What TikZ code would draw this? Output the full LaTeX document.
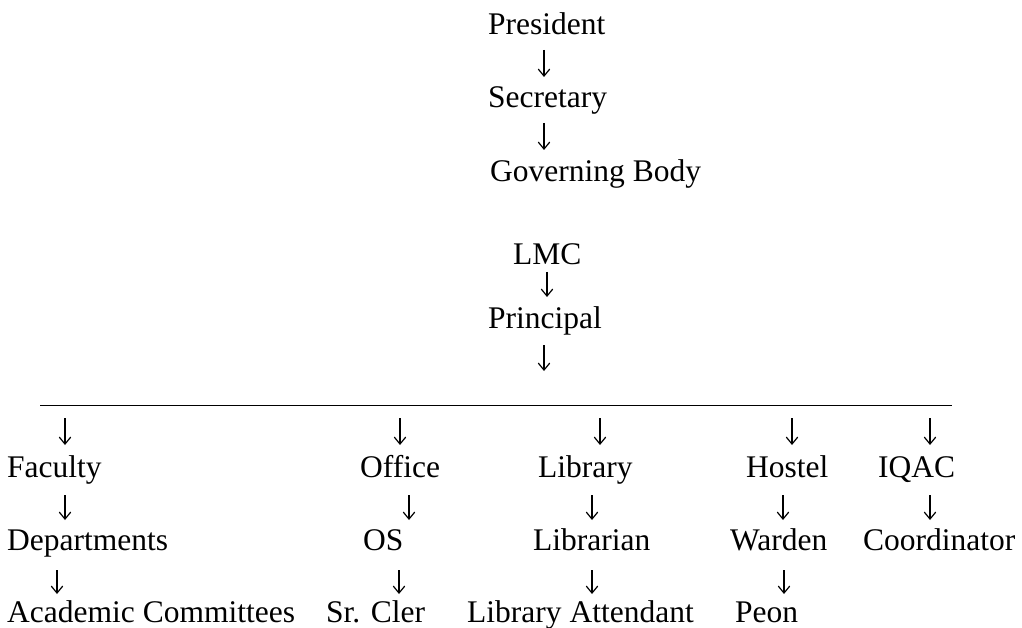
\documentclass[tikz,border=0pt]{standalone}
\usepackage{fontspec}
\setmainfont{Liberation Serif}
\usetikzlibrary{arrows.meta}
\begin{document}
\begin{tikzpicture}[x=1pt,y=-1pt,
  lbl/.style={anchor=base west,inner sep=0pt,font=\fontsize{31.5}{36}\selectfont},
  arr/.style={line width=1.2pt,-{Straight Barb[length=7pt,width=11.5pt,line width=1.2pt]}},
  rule/.style={line width=1.3pt}]
\useasboundingbox (0,0) rectangle (1022,628);
% top column
\node[lbl] (pres) at (488,35) {President};
\node[lbl] (sec) at (488,108) {Secretary};
\node[lbl] (gb) at (490,182) {Governing Body};
\node[lbl] (lmc) at (513,265) {LMC};
\node[lbl] (prin) at (488,328) {Principal};
% branches
\node[lbl] (fac) at (7,477) {Faculty};
\node[lbl] (off) at (360,477) {Office};
\node[lbl] (lib) at (538,477) {Library};
\node[lbl] (hos) at (746,477) {Hostel};
\node[lbl] (iqac) at (878,477) {IQAC};
\node[lbl] (dep) at (7,550) {Departments};
\node[lbl] (os) at (363,550) {OS};
\node[lbl] (libn) at (533,550) {Librarian};
\node[lbl] (war) at (730,550) {Warden};
\node[lbl] (coord) at (863,550) {Coordinator};
\node[lbl] (acad) at (7,622) {Academic Committees};
\node[lbl] (sr) at (326,622) {Sr. Cler};
\node[lbl] (libatt) at (467,622) {Library Attendant};
\node[lbl] (peon) at (735,622) {Peon};
% arrow end points
\coordinate (a1s) at (544,50);  \coordinate (a1e) at (544,77);
\coordinate (a2s) at (544,123); \coordinate (a2e) at (544,150);
\coordinate (a3s) at (547,272); \coordinate (a3e) at (547,297);
\coordinate (a4s) at (544,345); \coordinate (a4e) at (544,371);
\coordinate (hl) at (40,405.5); \coordinate (hr) at (952,405.5);
\draw[arr] (a1s) -- (a1e);
\draw[arr] (a2s) -- (a2e);
\draw[arr] (a3s) -- (a3e);
\draw[arr] (a4s) -- (a4e);
\draw[rule] (hl) -- (hr);
\foreach \x [count=\i] in {65,400,600,792,930}{
  \coordinate (r1s\i) at (\x,418); \coordinate (r1e\i) at (\x,445);
  \draw[arr] (r1s\i) -- (r1e\i);}
\foreach \x [count=\i] in {65,409,592,783,930}{
  \coordinate (r2s\i) at (\x,495); \coordinate (r2e\i) at (\x,520);
  \draw[arr] (r2s\i) -- (r2e\i);}
\foreach \x [count=\i] in {57,399,592,784}{
  \coordinate (r3s\i) at (\x,570); \coordinate (r3e\i) at (\x,594);
  \draw[arr] (r3s\i) -- (r3e\i);}
\end{tikzpicture}
\end{document}
